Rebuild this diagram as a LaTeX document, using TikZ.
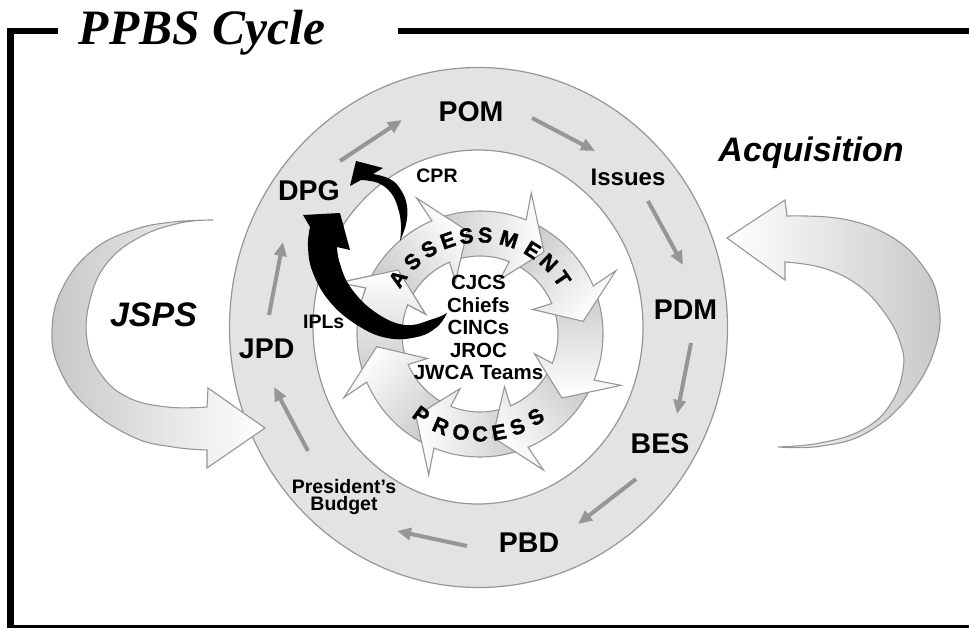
\documentclass[tikz,border=0pt]{standalone}
\usepackage{fontspec}
\setmainfont{Liberation Sans}
\newfontfamily\titlefont{Liberation Serif}
\newfontfamily\heavyfont{Liberation Sans}[FakeBold=1.6]
\usetikzlibrary{arrows.meta}
\definecolor{ringfill}{RGB}{227,227,227}
\definecolor{edgegray}{RGB}{150,150,150}
\definecolor{flowgray}{RGB}{150,150,150}
\definecolor{shadedark}{RGB}{200,200,200}
\newcommand{\RArrow}[1]{%
  \pgfmathsetmacro{\raA}{#1}%
  \pgfmathsetmacro{\raB}{#1+45}%
  \pgfmathsetmacro{\raC}{#1+2}%
  \pgfmathsetmacro{\raD}{#1-16}%
  \pgfmathsetmacro{\raS}{#1+22.5}%
  \path[ringarrow, shading angle=\raS] (\raB:123) arc[start angle=\raB, end angle=\raA, radius=123]
    -- (\raC:150) -- (\raD:104) -- (\raC:58) -- (\raA:78)
    arc[start angle=\raA, end angle=\raB, radius=78] -- cycle;}
\begin{document}
\begin{tikzpicture}[x=1pt,y=-1pt,
  lbl/.style={inner sep=0pt, anchor=base, font=\bfseries\fontsize{28.5}{28.5}\selectfont},
  midlbl/.style={inner sep=0pt, anchor=base, font=\bfseries\fontsize{24}{24}\selectfont},
  smalllbl/.style={inner sep=0pt, anchor=base, font=\bfseries\fontsize{19.5}{19.5}\selectfont},
  biglbl/.style={inner sep=0pt, anchor=base, font=\bfseries\itshape\fontsize{34}{34}\selectfont},
  ringtxt/.style={inner sep=0pt, font=\heavyfont\bfseries\fontsize{21.5}{21.5}\selectfont},
  flow/.style={draw=flowgray, line width=4pt, -{Triangle[length=14pt,width=12pt]}},
  ringarrow/.style={draw=edgegray, line width=1.1pt, left color=shadedark, right color=white},
  sidearrow/.style={draw=edgegray, line width=1.1pt}
]
\useasboundingbox (0,0) rectangle (969,629);
% frame
\fill[black] (7,28) rectangle (14,628);
\fill[black] (7,28) rectangle (58,34);
\fill[black] (398,28) rectangle (969,34);
\fill[black] (7,624.5) rectangle (969,628);
\node[anchor=base, inner sep=0pt] (title) at (202,44) {\titlefont\bfseries\itshape\fontsize{49.5}{49.5}\selectfont PPBS Cycle};
% rings
\draw[edgegray, fill=ringfill, line width=1.2pt] (478.5,327.5) ellipse [x radius=249, y radius=260];
\draw[edgegray, fill=white, line width=1.2pt] (478,327) ellipse [x radius=165, y radius=177];
% inner circular arrows
\begin{scope}[shift={(480,334)}, yscale=-1]
  \foreach \k in {7,6,...,0}{\pgfmathsetmacro{\th}{113-45*\k}\RArrow{\th}}
  \begin{scope}
    \clip (0,0) -- (-199:200) arc[start angle=-199, end angle=-225, radius=200] -- cycle;
    \RArrow{-202}
  \end{scope}
  \foreach \a/\l [count=\i] in {146/A,133/S,121/S,109/E,98/S,87/S,73/M,58/E,46/N,34/T}
    \node[ringtxt, rotate=\a-90] (asm\i) at (\a:99) {\l};
  \foreach \a/\l [count=\i] in {-126/P,-113/R,-101/O,-90/C,-79/E,-68/S,-56/S}
    \node[ringtxt, rotate=\a+90] (prc\i) at (\a:100) {\l};
\end{scope}
% flow arrows on the outer ring
\coordinate (f1s) at (340,161); \coordinate (f1e) at (402,120);
\coordinate (f2s) at (532,118); \coordinate (f2e) at (595,151);
\coordinate (f3s) at (648,201); \coordinate (f3e) at (683,265);
\coordinate (f4s) at (691,343); \coordinate (f4e) at (677,414);
\coordinate (f5s) at (636,479); \coordinate (f5e) at (578,524);
\coordinate (f6s) at (467,546); \coordinate (f6e) at (397,531);
\coordinate (f7s) at (308,451); \coordinate (f7e) at (274,387);
\coordinate (f8s) at (269,315); \coordinate (f8e) at (283,242);
\foreach \i in {1,...,8} \draw[flow] (f\i s) -- (f\i e);
% JSPS arrow
\path[sidearrow, left color=shadedark, right color=white]
  plot[smooth, tension=0.7] coordinates {(213,220) (173,222) (133,230) (93,250) (63,287) (52,330) (60,370) (87,407) (133,437) (173,447) (207,450)}
  -- (207,468) -- (265,428) -- (208,388) -- (207,407)
  -- plot[smooth, tension=0.7] coordinates {(207,407) (167,407) (127,397) (100,373) (87,340) (90,300) (107,263) (140,237) (180,223) (213,220)} -- cycle;
% Acquisition arrow
\path[sidearrow, left color=white, right color=shadedark]
  plot[smooth, tension=0.7] coordinates {(778,447) (822,446) (868,432) (910,395) (936,345) (938,300) (922,265) (890,236) (843,219) (787,216)}
  -- (785,200) -- (727,238) -- (785,280) -- (785,262)
  -- plot[smooth, tension=0.7] coordinates {(785,262) (823,268) (858,285) (884,312) (900,342) (903,370) (890,405) (862,430) (820,443) (778,447)} -- cycle;
% black arrows
\fill[black] plot[smooth, tension=0.7] coordinates {(447,313) (437,327) (417,337) (387,338) (357,325) (330,302) (313,273) (308,247) (310,227)}
  -- (303,215) -- (340,213) -- (350,250)
  -- plot[smooth, tension=0.7] coordinates {(337,247) (340,264) (351,288) (375,312) (405,325) (433,319) (447,313)} -- cycle;
\fill[black] plot[smooth, tension=0.7] coordinates {(400,241) (406,224) (407,206) (401,190) (390,179) (373,174)}
  -- (383,168) -- (356,161) -- (350,186)
  -- plot[smooth, tension=0.7] coordinates {(361,180) (378,183) (391,193) (398,208) (401,225) (400,241)} -- cycle;
% labels
\node[lbl] (pom) at (471,121.5) {POM};
\node[midlbl] (issues) at (628,185) {Issues};
\node[lbl] (dpg) at (309,200) {DPG};
\node[smalllbl] (cpr) at (437,182.5) {CPR};
\node[lbl] (pdm) at (685.5,319) {PDM};
\node[lbl] (bes) at (660,453.5) {BES};
\node[lbl] (pbd) at (529,552.5) {PBD};
\node[inner sep=0pt, align=center, font=\bfseries\fontsize{19.5}{17.5}\selectfont] (pb) at (344,497) {President's\\Budget};
\node[lbl] (jpd) at (266.7,358) {JPD};
\node[smalllbl] (ipls) at (323.7,328.3) {IPLs};
\node[biglbl] (jsps) at (153.5,326.5) {JSPS};
\node[biglbl] (acq) at (811,161.5) {Acquisition};
\node[inner sep=0pt, align=center, font=\bfseries\fontsize{20.5}{22.5}\selectfont] (members) at (478.5,327.6) {CJCS\\Chiefs\\CINCs\\JROC\\JWCA Teams};
\end{tikzpicture}
\end{document}
